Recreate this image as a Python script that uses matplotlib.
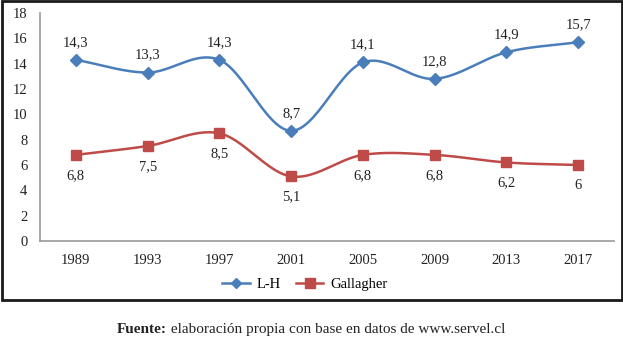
import numpy as np
import matplotlib.pyplot as plt
from matplotlib.patches import Rectangle

plt.rcParams['font.family'] = ['Liberation Serif', 'DejaVu Serif']

years = ['1989', '1993', '1997', '2001', '2005', '2009', '2013', '2017']
lh = [14.3, 13.3, 14.3, 8.7, 14.1, 12.8, 14.9, 15.7]
gallagher = [6.8, 7.5, 8.5, 5.1, 6.8, 6.8, 6.2, 6.0]

blue = '#4a7ebb'
red = '#be4b48'


def smooth(x, y, n=30):
    # catmull-rom curve through the points, like excel's smoothed lines
    x = np.asarray(x, float)
    y = np.asarray(y, float)
    px = np.concatenate([[2 * x[0] - x[1]], x, [2 * x[-1] - x[-2]]])
    py = np.concatenate([[2 * y[0] - y[1]], y, [2 * y[-1] - y[-2]]])
    t = np.linspace(0, 1, n)
    xs, ys = [], []
    for i in range(1, len(px) - 2):
        for p, out in ((px, xs), (py, ys)):
            p0, p1, p2, p3 = p[i - 1], p[i], p[i + 1], p[i + 2]
            out.append(0.5 * (2 * p1 + (-p0 + p2) * t
                              + (2 * p0 - 5 * p1 + 4 * p2 - p3) * t ** 2
                              + (-p0 + 3 * p1 - 3 * p2 + p3) * t ** 3))
    return np.concatenate(xs), np.concatenate(ys)


def fmt(v):
    s = ('%.1f' % v).rstrip('0').rstrip('.')
    return s.replace('.', ',')


fig = plt.figure(figsize=(6.23, 3.49), dpi=100)
ax = fig.add_axes([40 / 623, 1 - 241 / 349, 574 / 623, 228 / 349])

x = np.arange(len(years))
sx, sy = smooth(x, lh)
ax.plot(sx, sy, color=blue, lw=1.8)
ax.plot(x, lh, 'D', color=blue, ms=6, ls='none')
sx, sy = smooth(x, gallagher)
ax.plot(sx, sy, color=red, lw=1.8)
ax.plot(x, gallagher, 's', color=red, ms=7.5, ls='none')

for xi, v in zip(x, lh):
    ax.annotate(fmt(v), (xi, v), xytext=(0, 8), textcoords='offset points',
                ha='center', va='bottom', fontsize=10.5, color='#222222')
for xi, v in zip(x, gallagher):
    ax.annotate(fmt(v), (xi, v), xytext=(0, -10), textcoords='offset points',
                ha='center', va='top', fontsize=10.5, color='#222222')

ax.set_xlim(-0.5, len(years) - 0.5)
ax.set_ylim(0, 18)
ax.set_yticks(range(0, 19, 2))
ax.set_xticks(x)
ax.set_xticklabels(years)
ax.tick_params(length=0, labelsize=10.5, colors='#222222')
ax.tick_params(axis='x', pad=9)
ax.tick_params(axis='y', pad=9)
for s in ['top', 'right']:
    ax.spines[s].set_visible(False)
for s in ['left', 'bottom']:
    ax.spines[s].set_color('#999999')
    ax.spines[s].set_linewidth(1.2)

# legend
h1, = ax.plot([], [], color=blue, lw=1.8, marker='D', ms=5)
h2, = ax.plot([], [], color=red, lw=1.8, marker='s', ms=7)
fig.legend([h1, h2], ['L-H', 'Gallagher'], loc='center',
           bbox_to_anchor=(305 / 623, 1 - 284 / 349), ncol=2, frameon=False,
           fontsize=10.5, handlelength=1.9, columnspacing=1.0, handletextpad=0.5)

# outer frame
fig.patches.append(Rectangle((1.5 / 623, 1 - 300 / 349), 620 / 623, 299 / 349,
                             transform=fig.transFigure, fill=False,
                             edgecolor='#1a1a1a', lw=2))

# source line: bold "Fuente:" then the rest right after it
t1 = fig.text(117 / 623, 1 - 333 / 349, 'Fuente:', weight='bold',
              ha='left', va='baseline', fontsize=11, color='#222222')
ax.annotate(' elaboración propia con base en datos de www.servel.cl',
            xy=(1, 0), xycoords=t1, xytext=(0, 0), textcoords='offset points',
            ha='left', va='bottom', fontsize=11, color='#222222',
            annotation_clip=False)

fig.savefig('out.png', dpi=100)
